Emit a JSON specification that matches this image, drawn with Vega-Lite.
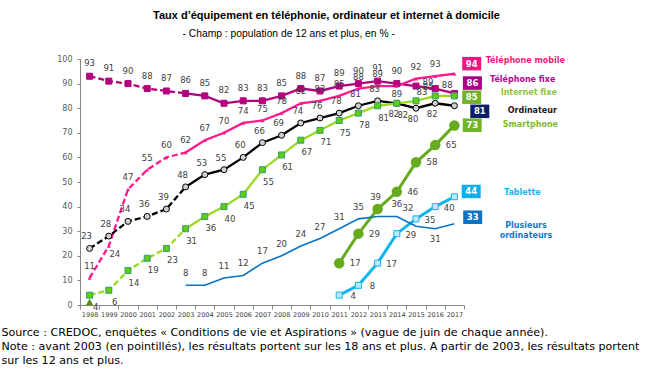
{
  "$schema": "https://vega.github.io/schema/vega-lite/v6.json",
  "width": 384,
  "height": 246,
  "autosize": {"type": "none"},
  "padding": {"left": 80, "top": 59, "right": 185, "bottom": 86},
  "background": "white",
  "config": {"view": {"stroke": null}, "text": {"font": "DejaVu Sans"}},
  "title": {
    "text": "Taux d’équipement en téléphonie, ordinateur et internet à domicile",
    "anchor": "start", "frame": "group", "dx": 73, "offset": 7,
    "font": "Liberation Sans", "fontSize": 11, "fontWeight": "bold", "color": "#000000"
  },
  "datasets": {
    "rows": [
      {"year": 1998, "series": "Téléphone fixe", "value": 93},
      {"year": 1999, "series": "Téléphone fixe", "value": 91},
      {"year": 2000, "series": "Téléphone fixe", "value": 90},
      {"year": 2001, "series": "Téléphone fixe", "value": 88},
      {"year": 2002, "series": "Téléphone fixe", "value": 87},
      {"year": 2003, "series": "Téléphone fixe", "value": 86},
      {"year": 2004, "series": "Téléphone fixe", "value": 85},
      {"year": 2005, "series": "Téléphone fixe", "value": 82},
      {"year": 2006, "series": "Téléphone fixe", "value": 83},
      {"year": 2007, "series": "Téléphone fixe", "value": 83},
      {"year": 2008, "series": "Téléphone fixe", "value": 85},
      {"year": 2009, "series": "Téléphone fixe", "value": 88},
      {"year": 2010, "series": "Téléphone fixe", "value": 87},
      {"year": 2011, "series": "Téléphone fixe", "value": 89},
      {"year": 2012, "series": "Téléphone fixe", "value": 90},
      {"year": 2013, "series": "Téléphone fixe", "value": 91},
      {"year": 2014, "series": "Téléphone fixe", "value": 90},
      {"year": 2015, "series": "Téléphone fixe", "value": 89},
      {"year": 2016, "series": "Téléphone fixe", "value": 88},
      {"year": 2017, "series": "Téléphone fixe", "value": 86},
      {"year": 1998, "series": "Téléphone mobile", "value": 11},
      {"year": 1999, "series": "Téléphone mobile", "value": 24},
      {"year": 2000, "series": "Téléphone mobile", "value": 47},
      {"year": 2001, "series": "Téléphone mobile", "value": 55},
      {"year": 2002, "series": "Téléphone mobile", "value": 60},
      {"year": 2003, "series": "Téléphone mobile", "value": 62},
      {"year": 2004, "series": "Téléphone mobile", "value": 67},
      {"year": 2005, "series": "Téléphone mobile", "value": 70},
      {"year": 2006, "series": "Téléphone mobile", "value": 74},
      {"year": 2007, "series": "Téléphone mobile", "value": 75},
      {"year": 2008, "series": "Téléphone mobile", "value": 78},
      {"year": 2009, "series": "Téléphone mobile", "value": 82},
      {"year": 2010, "series": "Téléphone mobile", "value": 83},
      {"year": 2011, "series": "Téléphone mobile", "value": 85},
      {"year": 2012, "series": "Téléphone mobile", "value": 88},
      {"year": 2013, "series": "Téléphone mobile", "value": 89},
      {"year": 2014, "series": "Téléphone mobile", "value": 89},
      {"year": 2015, "series": "Téléphone mobile", "value": 92},
      {"year": 2016, "series": "Téléphone mobile", "value": 93},
      {"year": 2017, "series": "Téléphone mobile", "value": 94},
      {"year": 1998, "series": "Ordinateur", "value": 23},
      {"year": 1999, "series": "Ordinateur", "value": 28},
      {"year": 2000, "series": "Ordinateur", "value": 34},
      {"year": 2001, "series": "Ordinateur", "value": 36},
      {"year": 2002, "series": "Ordinateur", "value": 39},
      {"year": 2003, "series": "Ordinateur", "value": 48},
      {"year": 2004, "series": "Ordinateur", "value": 53},
      {"year": 2005, "series": "Ordinateur", "value": 55},
      {"year": 2006, "series": "Ordinateur", "value": 60},
      {"year": 2007, "series": "Ordinateur", "value": 66},
      {"year": 2008, "series": "Ordinateur", "value": 69},
      {"year": 2009, "series": "Ordinateur", "value": 74},
      {"year": 2010, "series": "Ordinateur", "value": 76},
      {"year": 2011, "series": "Ordinateur", "value": 78},
      {"year": 2012, "series": "Ordinateur", "value": 81},
      {"year": 2013, "series": "Ordinateur", "value": 83},
      {"year": 2014, "series": "Ordinateur", "value": 82},
      {"year": 2015, "series": "Ordinateur", "value": 80},
      {"year": 2016, "series": "Ordinateur", "value": 82},
      {"year": 2017, "series": "Ordinateur", "value": 81},
      {"year": 1998, "series": "Internet fixe", "value": 4},
      {"year": 1999, "series": "Internet fixe", "value": 6},
      {"year": 2000, "series": "Internet fixe", "value": 14},
      {"year": 2001, "series": "Internet fixe", "value": 19},
      {"year": 2002, "series": "Internet fixe", "value": 23},
      {"year": 2003, "series": "Internet fixe", "value": 31},
      {"year": 2004, "series": "Internet fixe", "value": 36},
      {"year": 2005, "series": "Internet fixe", "value": 40},
      {"year": 2006, "series": "Internet fixe", "value": 45},
      {"year": 2007, "series": "Internet fixe", "value": 55},
      {"year": 2008, "series": "Internet fixe", "value": 61},
      {"year": 2009, "series": "Internet fixe", "value": 67},
      {"year": 2010, "series": "Internet fixe", "value": 71},
      {"year": 2011, "series": "Internet fixe", "value": 75},
      {"year": 2012, "series": "Internet fixe", "value": 78},
      {"year": 2013, "series": "Internet fixe", "value": 81},
      {"year": 2014, "series": "Internet fixe", "value": 82},
      {"year": 2015, "series": "Internet fixe", "value": 83},
      {"year": 2016, "series": "Internet fixe", "value": 85},
      {"year": 2017, "series": "Internet fixe", "value": 85},
      {"year": 2011, "series": "Smartphone", "value": 17},
      {"year": 2012, "series": "Smartphone", "value": 29},
      {"year": 2013, "series": "Smartphone", "value": 39},
      {"year": 2014, "series": "Smartphone", "value": 46},
      {"year": 2015, "series": "Smartphone", "value": 58},
      {"year": 2016, "series": "Smartphone", "value": 65},
      {"year": 2017, "series": "Smartphone", "value": 73},
      {"year": 2011, "series": "Tablette", "value": 4},
      {"year": 2012, "series": "Tablette", "value": 8},
      {"year": 2013, "series": "Tablette", "value": 17},
      {"year": 2014, "series": "Tablette", "value": 29},
      {"year": 2015, "series": "Tablette", "value": 35},
      {"year": 2016, "series": "Tablette", "value": 40},
      {"year": 2017, "series": "Tablette", "value": 44},
      {"year": 2003, "series": "Plusieurs ordinateurs", "value": 8},
      {"year": 2004, "series": "Plusieurs ordinateurs", "value": 8},
      {"year": 2005, "series": "Plusieurs ordinateurs", "value": 11},
      {"year": 2006, "series": "Plusieurs ordinateurs", "value": 12},
      {"year": 2007, "series": "Plusieurs ordinateurs", "value": 17},
      {"year": 2008, "series": "Plusieurs ordinateurs", "value": 20},
      {"year": 2009, "series": "Plusieurs ordinateurs", "value": 24},
      {"year": 2010, "series": "Plusieurs ordinateurs", "value": 27},
      {"year": 2011, "series": "Plusieurs ordinateurs", "value": 31},
      {"year": 2012, "series": "Plusieurs ordinateurs", "value": 35},
      {"year": 2013, "series": "Plusieurs ordinateurs", "value": 36},
      {"year": 2014, "series": "Plusieurs ordinateurs", "value": 36},
      {"year": 2015, "series": "Plusieurs ordinateurs", "value": 32},
      {"year": 2016, "series": "Plusieurs ordinateurs", "value": 31},
      {"year": 2017, "series": "Plusieurs ordinateurs", "value": 33}
    ]
  },
  "data": {"name": "rows"},
  "encoding": {
    "x": {
      "field": "year", "type": "ordinal",
      "scale": {"type": "band", "paddingInner": 0, "paddingOuter": 0},
      "axis": {
        "labelAngle": 0, "tickBand": "extent", "tickSize": 4, "labelPadding": 2,
        "labelFont": "DejaVu Sans", "labelFontSize": 6.5, "labelColor": "#404040",
        "labelOverlap": false, "labelFlush": false,
        "domainColor": "#868686", "tickColor": "#868686", "grid": false,
        "title": [
          "Source : CREDOC, enquêtes « Conditions de vie et Aspirations » (vague de juin de chaque année).",
          "Note : avant 2003 (en pointillés), les résultats portent sur les 18 ans et plus. A partir de 2003, les résultats portent",
          "sur les 12 ans et plus."
        ],
        "titleX": -79, "titleY": 21, "titleAlign": "left", "titleAnchor": "start", "titleBaseline": "top",
        "titleFont": "DejaVu Sans", "titleFontSize": 11.1, "titleFontWeight": "normal",
        "titleLineHeight": 14, "titleColor": "#000000"
      }
    },
    "y": {
      "field": "value", "type": "quantitative",
      "scale": {"domain": [0, 100], "nice": false},
      "axis": {
        "values": [0, 10, 20, 30, 40, 50, 60, 70, 80, 90, 100],
        "grid": false, "tickSize": 3, "labelPadding": 5,
        "labelFont": "DejaVu Sans", "labelFontSize": 8, "labelColor": "#595959",
        "domainColor": "#868686", "tickColor": "#868686",
        "title": "- Champ : population de 12 ans et plus, en % -",
        "titleAngle": 0, "titleX": 102, "titleY": -26, "titleAlign": "left", "titleBaseline": "middle",
        "titleFont": "Liberation Sans", "titleFontSize": 10.3, "titleFontWeight": "normal", "titleColor": "#000000"
      }
    }
  },
  "layer": [
    {
      "transform": [{"filter": "datum.year <= 2003 && datum.series != 'Plusieurs ordinateurs'"}],
      "mark": {"type": "line", "strokeDash": [6, 3], "strokeWidth": 2.3},
      "encoding": {
        "stroke": {"field": "series", "type": "nominal", "legend": null,
          "scale": {"domain": ["Téléphone mobile", "Téléphone fixe", "Internet fixe", "Ordinateur", "Smartphone", "Tablette", "Plusieurs ordinateurs"],
                    "range": ["#FF1A8C", "#B3007D", "#99D91E", "#000000", "#66AA1E", "#10B4F0", "#0B72C4"]}}
      }
    },
    {
      "transform": [{"filter": "datum.year >= 2003 && (datum.series == 'Téléphone mobile' || datum.series == 'Téléphone fixe' || datum.series == 'Internet fixe' || datum.series == 'Ordinateur')"}],
      "mark": {"type": "line", "strokeWidth": 2.3},
      "encoding": {
        "stroke": {"field": "series", "type": "nominal", "legend": null,
          "scale": {"domain": ["Téléphone mobile", "Téléphone fixe", "Internet fixe", "Ordinateur", "Smartphone", "Tablette", "Plusieurs ordinateurs"],
                    "range": ["#FF1A8C", "#B3007D", "#99D91E", "#000000", "#66AA1E", "#10B4F0", "#0B72C4"]}}
      }
    },
    {
      "transform": [{"filter": "datum.series == 'Smartphone' || datum.series == 'Tablette'"}],
      "mark": {"type": "line", "strokeWidth": 3},
      "encoding": {
        "stroke": {"field": "series", "type": "nominal", "legend": null,
          "scale": {"domain": ["Téléphone mobile", "Téléphone fixe", "Internet fixe", "Ordinateur", "Smartphone", "Tablette", "Plusieurs ordinateurs"],
                    "range": ["#FF1A8C", "#B3007D", "#99D91E", "#000000", "#66AA1E", "#10B4F0", "#0B72C4"]}}
      }
    },
    {
      "transform": [{"filter": "datum.series == 'Plusieurs ordinateurs'"}],
      "mark": {"type": "line", "strokeWidth": 1.6, "color": "#0B72C4"},
      "encoding": {}
    },
    {
      "transform": [{"filter": "datum.series == 'Téléphone fixe' || datum.series == 'Internet fixe' || datum.series == 'Ordinateur' || datum.series == 'Tablette'"}],
      "mark": {"type": "point", "filled": true, "size": 36, "strokeWidth": 1, "opacity": 1},
      "encoding": {
        "shape": {"field": "series", "type": "nominal", "legend": null,
          "scale": {"domain": ["Téléphone fixe", "Internet fixe", "Ordinateur", "Tablette"],
                    "range": ["square", "square", "circle", "square"]}},
        "fill": {"field": "series", "type": "nominal", "legend": null,
          "scale": {"domain": ["Téléphone fixe", "Internet fixe", "Ordinateur", "Tablette"],
                    "range": ["#B3007D", "#66CC00", "#D0D0D0", "#BDE9FB"]}},
        "stroke": {"field": "series", "type": "nominal", "legend": null,
          "scale": {"domain": ["Téléphone fixe", "Internet fixe", "Ordinateur", "Tablette"],
                    "range": ["#B3007D", "#2E9C8E", "#000000", "#10B4F0"]}}
      }
    },
    {
      "transform": [{"filter": "datum.series == 'Téléphone mobile'"}],
      "mark": {"type": "point", "shape": "triangle-up", "filled": true, "size": 16, "color": "#FF1A8C", "opacity": 1},
      "encoding": {}
    },
    {
      "transform": [{"filter": "datum.series == 'Smartphone'"}],
      "mark": {"type": "circle", "size": 110, "color": "#66AA1E", "opacity": 1},
      "encoding": {}
    },
    {
      "data": {"values": [{"year": 1998, "value": 0}]},
      "mark": {"type": "point", "shape": "triangle-up", "filled": true, "size": 55, "color": "#4F8F1E", "opacity": 1, "yOffset": -3},
      "encoding": {}
    },
    {
      "transform": [{"filter": "datum.year < 2017 && !(datum.series == 'Plusieurs ordinateurs' && datum.year == 2013)"}],
      "mark": {
        "type": "text", "font": "DejaVu Sans", "fontSize": 8.5, "color": "#404040", "baseline": "middle", "align": "center",
        "dx": {"expr": "datum.series=='Smartphone' ? (datum.year==2013 ? -2 : 16) : datum.series=='Tablette' ? 14 : datum.series=='Internet fixe' ? (datum.year==2016 ? -7 : 6) : datum.series=='Ordinateur' ? -3 : datum.series=='Téléphone fixe' ? ((datum.year==2015 || datum.year==2016) ? 12 : 0) : datum.series=='Téléphone mobile' ? (datum.year==1999 ? 6 : 0) : datum.series=='Plusieurs ordinateurs' ? (datum.year==2015 ? -8 : 0) : 0"},
        "dy": {"expr": "datum.series=='Smartphone' ? (datum.year==2013 ? -12 : 0) : datum.series=='Tablette' ? 1 : datum.series=='Internet fixe' ? ((datum.year==2015 || datum.year==2016) ? -9 : 12) : datum.series=='Ordinateur' ? (datum.year>=2014 ? 11 : -12) : datum.series=='Téléphone fixe' ? ((datum.year==2015 || datum.year==2016) ? -4 : -13) : datum.series=='Téléphone mobile' ? ((datum.year==1999 || datum.year==2014) ? 8 : -12) : datum.series=='Plusieurs ordinateurs' ? (datum.year==2016 ? 10 : (datum.year==2015 ? -18 : -12)) : 0"}
      },
      "encoding": {"text": {"field": "value", "type": "quantitative"}}
    },
    {
      "transform": [{"filter": "datum.year == 2017"}],
      "mark": {"type": "point", "filled": true, "size": 400, "opacity": 1, "strokeWidth": 0},
      "encoding": {
        "shape": {"field": "series", "type": "nominal", "legend": null,
          "scale": {"domain": ["Téléphone mobile", "Téléphone fixe", "Internet fixe", "Ordinateur", "Smartphone", "Tablette", "Plusieurs ordinateurs"],
                    "range": [
                      "M0.78,-1.685L2.68,-1.685L2.68,-0.335L0.78,-0.335Z",
                      "M0.85,-1.715L2.75,-1.715L2.75,-0.365L0.85,-0.365Z",
                      "M0.78,-0.545L2.68,-0.545L2.68,0.805L0.78,0.805Z",
                      "M1.59,-0.115L3.49,-0.115L3.49,1.235L1.59,1.235Z",
                      "M0.83,-0.695L2.73,-0.695L2.73,0.655L0.83,0.655Z",
                      "M0.73,-1.205L2.63,-1.205L2.63,0.145L0.73,0.145Z",
                      "M0.88,-1.335L2.78,-1.335L2.78,0.015L0.88,0.015Z"
                    ]}},
        "fill": {"field": "series", "type": "nominal", "legend": null,
          "scale": {"domain": ["Téléphone mobile", "Téléphone fixe", "Internet fixe", "Ordinateur", "Smartphone", "Tablette", "Plusieurs ordinateurs"],
                    "range": ["#F0157F", "#A80084", "#74B22B", "#0B1F65", "#72B52A", "#0CB0EE", "#0B72C4"]}}
      }
    },
    {
      "transform": [{"filter": "datum.year == 2017"}],
      "mark": {
        "type": "text", "font": "DejaVu Sans", "fontSize": 8.5, "fontWeight": "bold", "color": "#FFFFFF", "align": "center", "baseline": "middle",
        "dx": {"expr": "datum.series=='Téléphone mobile' ? 17.3 : datum.series=='Téléphone fixe' ? 18 : datum.series=='Internet fixe' ? 17.3 : datum.series=='Ordinateur' ? 25.4 : datum.series=='Smartphone' ? 17.8 : datum.series=='Tablette' ? 16.8 : 18.3"},
        "dy": {"expr": "datum.series=='Téléphone mobile' ? -10.1 : datum.series=='Téléphone fixe' ? -10.4 : datum.series=='Internet fixe' ? 1.3 : datum.series=='Ordinateur' ? 5.6 : datum.series=='Smartphone' ? -0.2 : datum.series=='Tablette' ? -5.3 : -6.6"}
      },
      "encoding": {"text": {"field": "value", "type": "quantitative"}}
    },
    {
      "transform": [
        {"filter": "datum.year == 2017"},
        {"calculate": "datum.series == 'Plusieurs ordinateurs' ? ['Plusieurs', 'ordinateurs'] : datum.series", "as": "name"}
      ],
      "mark": {
        "type": "text", "font": "DejaVu Sans", "fontSize": 8, "fontWeight": "bold", "baseline": "middle", "lineHeight": 10,
        "align": {"expr": "datum.series=='Plusieurs ordinateurs' ? 'center' : 'left'"},
        "dx": {"expr": "datum.series=='Téléphone mobile' ? 31.3 : datum.series=='Téléphone fixe' ? 35.6 : datum.series=='Internet fixe' ? 46.3 : datum.series=='Ordinateur' ? 53.3 : datum.series=='Smartphone' ? 48.3 : datum.series=='Tablette' ? 49.6 : 71.6"},
        "dy": {"expr": "datum.series=='Téléphone mobile' ? -12.8 : datum.series=='Téléphone fixe' ? -13.4 : datum.series=='Internet fixe' ? -2.6 : datum.series=='Ordinateur' ? 5.3 : datum.series=='Smartphone' ? 0 : datum.series=='Tablette' ? -3.5 : 2.2"}
      },
      "encoding": {
        "text": {"field": "name"},
        "fill": {"field": "series", "type": "nominal", "legend": null,
          "scale": {"domain": ["Téléphone mobile", "Téléphone fixe", "Internet fixe", "Ordinateur", "Smartphone", "Tablette", "Plusieurs ordinateurs"],
                    "range": ["#EE1A80", "#B0088F", "#8CC63E", "#1A1A1A", "#7DBB35", "#1AB3EE", "#1877C9"]}}
      }
    }
  ],
  "resolve": {"scale": {"stroke": "independent", "fill": "independent", "shape": "independent"}}
}
